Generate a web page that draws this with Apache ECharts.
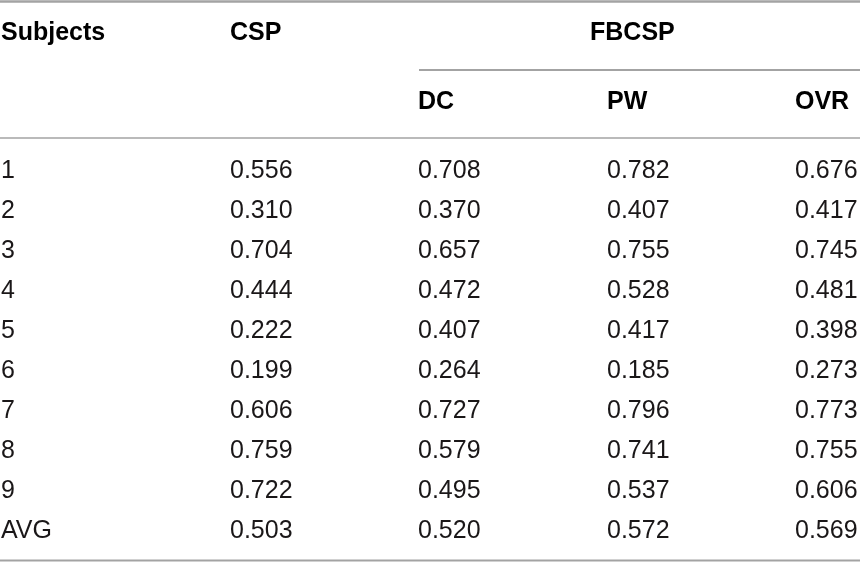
<!DOCTYPE html>
<html lang="en">
<head>
    <meta charset="UTF-8">
    <title>CSP vs FBCSP</title>
    <script src="https://cdn.jsdelivr.net/npm/echarts@6/dist/echarts.min.js"></script>
    <style>
        html, body { margin: 0; padding: 0; background: #fff; }
        #main { width: 860px; height: 562px; }
    </style>
</head>
<body>
<div id="main"></div>
<script>
    // table contents
    var columnHeaders = ['Subjects', 'CSP', 'DC', 'PW', 'OVR'];
    var groupHeader = 'FBCSP';
    var subjects = ['1', '2', '3', '4', '5', '6', '7', '8', '9', 'AVG'];
    var csp = [0.556, 0.310, 0.704, 0.444, 0.222, 0.199, 0.606, 0.759, 0.722, 0.503];
    var dc  = [0.708, 0.370, 0.657, 0.472, 0.407, 0.264, 0.727, 0.579, 0.495, 0.520];
    var pw  = [0.782, 0.407, 0.755, 0.528, 0.417, 0.185, 0.796, 0.741, 0.537, 0.572];
    var ovr = [0.676, 0.417, 0.745, 0.481, 0.398, 0.273, 0.773, 0.755, 0.606, 0.569];

    // layout (pixels, the axes run 1:1 with the canvas)
    var colX = [1, 230, 418, 607, 795];
    var groupX = 590;
    var headY = 33, subHeadY = 102;
    var rowY0 = 171, rowStep = 40;

    var bodyCols = [subjects, csp, dc, pw, ovr];
    var bodyData = [];
    for (var r = 0; r < subjects.length; r++) {
        for (var c = 0; c < bodyCols.length; c++) {
            var v = bodyCols[c][r];
            bodyData.push({
                value: [colX[c], rowY0 + r * rowStep],
                text: typeof v === 'number' ? v.toFixed(3) : v
            });
        }
    }
    var headData = [
        {value: [colX[0], headY], text: columnHeaders[0]},
        {value: [colX[1], headY], text: columnHeaders[1]},
        {value: [groupX, headY], text: groupHeader},
        {value: [colX[2], subHeadY], text: columnHeaders[2]},
        {value: [colX[3], subHeadY], text: columnHeaders[3]},
        {value: [colX[4], subHeadY], text: columnHeaders[4]}
    ];

    var ruleColor = '#a3a3a3';
    function rule(x1, x2, y, w) {
        return {
            type: 'line',
            shape: {x1: x1, y1: y, x2: x2, y2: y},
            style: {stroke: ruleColor, lineWidth: w}
        };
    }

    function cellSeries(name, data, weight, color) {
        return {
            name: name,
            type: 'scatter',
            symbolSize: 0,
            data: data,
            silent: true,
            itemStyle: {opacity: 1},
            label: {
                show: true,
                position: [0, 0],
                align: 'left',
                verticalAlign: 'middle',
                fontFamily: 'Liberation Sans',
                fontWeight: weight,
                fontSize: 25,
                color: color,
                opacity: 1,
                formatter: function (p) { return p.data.text; }
            }
        };
    }

    var myChart = echarts.init(document.getElementById('main'));
    var option = {
        animation: false,
        grid: {left: 0, right: 0, top: 0, bottom: 0},
        xAxis: {type: 'value', min: 0, max: 860, show: false},
        yAxis: {type: 'value', min: 0, max: 562, inverse: true, show: false},
        graphic: [
            rule(0, 860, 1.5, 2.5),
            rule(419, 860, 70, 2),
            rule(0, 860, 138, 1.5),
            rule(0, 860, 560.5, 2)
        ],
        series: [
            cellSeries('body', bodyData, 'normal', '#1a1718'),
            cellSeries('head', headData, 'bold', '#000000')
        ]
    };
    myChart.setOption(option);
</script>
</body>
</html>
